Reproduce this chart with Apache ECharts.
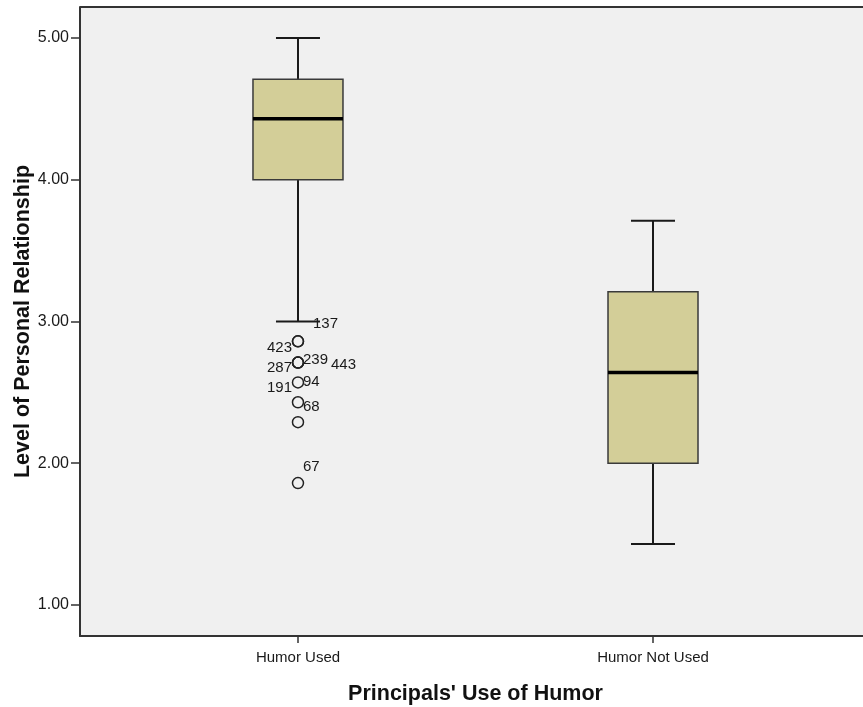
<!DOCTYPE html>
<html>
<head>
<meta charset="utf-8">
<script src="https://cdn.jsdelivr.net/npm/echarts@6/dist/echarts.min.js"></script>
<style>
  html, body { margin: 0; padding: 0; background: #ffffff; }
  #chart { width: 863px; height: 707px; }
</style>
</head>
<body>
<div id="chart"></div>
<script>
// ---- data ----
const categories = ['Humor Used', 'Humor Not Used'];
// [lower whisker, Q1, median, Q3, upper whisker]
const boxStats = [
  [3.00, 4.00, 4.43, 4.71, 5.00],
  [1.43, 2.00, 2.64, 3.21, 3.71]
];
// outliers of "Humor Used" (index 0)
const outlierValues = [2.86, 2.86, 2.71, 2.71, 2.71, 2.57, 2.43, 2.29, 1.86];
// case labels: [case id, value]
const outlierLabels = [
  ['137', 3.00], ['423', 2.86], ['287', 2.71], ['239', 2.71], ['443', 2.71],
  ['191', 2.57], ['94', 2.57], ['68', 2.43], ['67', 1.86]
];
const yTicks = [1, 2, 3, 4, 5];

// ---- label placement (style) ----
const labelOffsets = {
  '137': [15, 2, 'left'], '423': [-6, 7, 'right'], '287': [-6, 5, 'right'],
  '239': [5, -3, 'left'], '443': [33, 2, 'left'], '191': [-6, 5, 'right'],
  '94': [5, -1, 'left'], '68': [5, 5, 'left'], '67': [5, -16, 'left']
};

const chart = echarts.init(document.getElementById('chart'));
const font = '"Liberation Sans", Arial, sans-serif';

const boxData = boxStats.map((s, i) => [i + 1].concat(s));
const outlierData = outlierValues.map(v => [1, v]);
const labelData = outlierLabels.map(l => [1, l[1], l[0]]);

const option = {
  backgroundColor: '#ffffff',
  animation: false,
  grid: { left: 80, right: 0, top: 7, bottom: 71, show: true, backgroundColor: '#f0f0f0', borderWidth: 0,
          containLabel: false, outerBoundsMode: 'none' },
  xAxis: {
    type: 'value', min: 0.386, max: 2.5915,
    splitLine: { show: false },
    axisLine: { show: true, onZero: false, lineStyle: { color: '#333', width: 2 } },
    axisTick: { show: true, customValues: [1, 2], length: 7, lineStyle: { color: '#333', width: 1.5 } },
    axisLabel: {
      customValues: [1, 2], margin: 14, color: '#1a1a1a', fontSize: 15, fontFamily: font,
      formatter: v => categories[Math.round(v) - 1] || ''
    },
    name: "Principals' Use of Humor", nameLocation: 'middle', nameGap: 47, nameMoveOverlap: false,
    nameTextStyle: { fontSize: 21.5, fontWeight: 'bold', color: '#111', fontFamily: font, padding: [0, 0, 0, 8] }
  },
  yAxis: {
    type: 'value', min: 0.781, max: 5.219,
    splitLine: { show: false },
    axisLine: { show: true, onZero: false, lineStyle: { color: '#333', width: 2 } },
    axisTick: { show: true, customValues: yTicks, length: 9, lineStyle: { color: '#333', width: 1.5 } },
    axisLabel: {
      customValues: yTicks, margin: 11, color: '#1a1a1a', fontSize: 16, fontFamily: font,
      formatter: v => v.toFixed(2)
    },
    name: 'Level of Personal Relationship', nameLocation: 'middle', nameGap: 46, nameMoveOverlap: false,
    nameTextStyle: { fontSize: 21.5, fontWeight: 'bold', color: '#111', fontFamily: font }
  },
  graphic: [
    { type: 'line', shape: { x1: 80, y1: 7, x2: 863, y2: 7 }, style: { stroke: '#333', lineWidth: 2 }, z: 10 }
  ],
  series: [
    {
      type: 'custom',
      data: boxData,
      encode: { x: 0, y: [1, 2, 3, 4, 5] },
      renderItem: function (params, api) {
        const x = api.value(0);
        const lo = api.coord([x, api.value(1)]);
        const q1 = api.coord([x, api.value(2)]);
        const md = api.coord([x, api.value(3)]);
        const q3 = api.coord([x, api.value(4)]);
        const hi = api.coord([x, api.value(5)]);
        const cx = lo[0];
        const half = 45, cap = 22;
        const ws = { stroke: '#1a1a1a', lineWidth: 2 };
        return {
          type: 'group',
          children: [
            { type: 'line', shape: { x1: cx, y1: q3[1], x2: cx, y2: hi[1] }, style: ws },
            { type: 'line', shape: { x1: cx, y1: q1[1], x2: cx, y2: lo[1] }, style: ws },
            { type: 'line', shape: { x1: cx - cap, y1: hi[1], x2: cx + cap, y2: hi[1] }, style: ws },
            { type: 'line', shape: { x1: cx - cap, y1: lo[1], x2: cx + cap, y2: lo[1] }, style: ws },
            { type: 'rect', shape: { x: cx - half, y: q3[1], width: 2 * half, height: q1[1] - q3[1] },
              style: { fill: '#d3ce98', stroke: '#3a3a3a', lineWidth: 1.5 } },
            { type: 'line', shape: { x1: cx - half, y1: md[1], x2: cx + half, y2: md[1] },
              style: { stroke: '#000', lineWidth: 3.5 } }
          ]
        };
      }
    },
    {
      type: 'scatter',
      data: outlierData,
      symbol: 'circle', symbolSize: 11,
      itemStyle: { color: 'rgba(0,0,0,0)', borderColor: '#222', borderWidth: 1.5, opacity: 1 },
      z: 5
    },
    {
      type: 'custom',
      data: labelData,
      encode: { x: 0, y: 1 },
      z: 6,
      renderItem: function (params, api) {
        const p = api.coord([api.value(0), api.value(1)]);
        const id = outlierLabels[params.dataIndex][0];
        const o = labelOffsets[id] || [6, 0, 'left'];
        return {
          type: 'text',
          x: p[0] + o[0], y: p[1] + o[1],
          style: { text: id, fill: '#1a1a1a', font: '15px ' + font, textAlign: o[2], textVerticalAlign: 'middle' }
        };
      }
    }
  ]
};
chart.setOption(option);
</script>
</body>
</html>
